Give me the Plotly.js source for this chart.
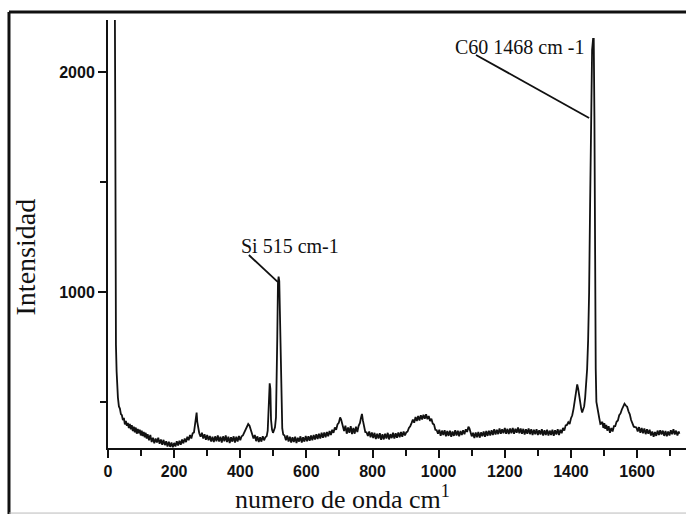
<!DOCTYPE html>
<html><head><meta charset="utf-8">
<script src="https://cdn.plot.ly/plotly-3.0.1.min.js"></script>
<style>html,body{margin:0;padding:0;background:#fff}#c{width:686px;height:517px}</style>
</head><body><div id="c"></div>
<script>
// Raman spectrum: [wavenumber cm-1, intensity]
const spectrumPoints = [
[17,3000],[20,2600],[22,1800],[23,1100],[24,760],[26,640],[28,560],[30,520],[33,480],[36,470],[39,445],[42,440],[45,418],[48,428],[51,398],[54,414],[57,392],[60,405],[63,382],[66,400],[69,376],[72,395],[75,368],[78,388],[81,362],[84,384],[87,356],[90,378],[93,358],[96,374],[99,348],[102,370],[105,345],[108,364],[111,340],[114,360],[117,334],[120,354],[124,326],[128,350],[132,318],[136,338],[140,312],[144,334],[148,316],[152,338],[156,310],[160,330],[164,306],[168,328],[172,304],[176,322],[180,298],[184,320],[188,296],[192,316],[196,294],[200,314],[204,298],[208,322],[212,302],[216,324],[220,306],[224,330],[228,312],[232,334],[236,318],[240,342],[244,326],[248,350],[252,334],[256,358],[260,362],[263,390],[266,425],[268,452],[270,410],[273,378],[276,358],[280,342],[284,360],[288,334],[292,354],[296,328],[300,350],[304,326],[308,346],[312,320],[316,342],[320,318],[324,344],[328,322],[332,348],[336,320],[340,342],[344,316],[348,344],[352,322],[356,348],[360,318],[364,342],[368,314],[372,340],[376,320],[380,344],[384,316],[388,342],[392,320],[396,346],[400,326],[404,344],[408,348],[412,362],[416,372],[420,388],[424,400],[428,392],[432,372],[436,358],[440,334],[444,350],[448,322],[452,344],[456,318],[460,340],[464,320],[468,344],[472,326],[476,340],[480,345],[483,370],[485,460],[487,575],[489,585],[491,560],[493,420],[496,375],[499,360],[502,372],[505,385],[508,430],[510,560],[512,800],[514,1040],[516,1070],[518,1050],[520,900],[522,620],[524,450],[527,380],[530,352],[534,348],[538,326],[542,348],[546,320],[550,342],[554,316],[558,340],[562,318],[566,342],[570,314],[574,338],[578,320],[582,344],[586,316],[590,340],[594,320],[598,346],[602,322],[606,344],[610,324],[614,348],[618,326],[622,350],[626,330],[630,354],[634,332],[638,356],[642,334],[646,360],[650,338],[654,362],[658,340],[662,364],[666,344],[670,368],[674,350],[678,374],[682,360],[686,384],[690,374],[694,398],[698,405],[702,430],[705,420],[708,398],[711,382],[714,368],[718,392],[722,356],[726,384],[730,360],[734,390],[738,354],[742,382],[746,356],[750,388],[754,364],[758,392],[762,405],[765,428],[768,446],[771,415],[774,392],[778,364],[782,362],[786,346],[790,366],[794,340],[798,362],[802,336],[806,360],[810,332],[814,356],[818,334],[822,358],[826,328],[830,354],[834,330],[838,356],[842,334],[846,360],[850,330],[854,354],[858,336],[862,360],[866,334],[870,358],[874,338],[878,362],[882,340],[886,364],[890,342],[894,366],[898,348],[902,362],[906,366],[910,382],[914,390],[918,404],[922,420],[926,406],[930,432],[934,414],[938,436],[942,416],[946,440],[950,420],[954,442],[958,424],[962,444],[966,422],[970,436],[974,414],[978,424],[982,402],[986,398],[990,374],[994,372],[998,356],[1002,374],[1006,346],[1010,370],[1014,350],[1018,372],[1022,344],[1026,368],[1030,346],[1034,370],[1038,342],[1042,366],[1046,346],[1050,372],[1054,348],[1058,370],[1062,344],[1066,368],[1070,350],[1074,372],[1078,354],[1082,376],[1086,364],[1090,388],[1093,380],[1096,360],[1100,344],[1104,360],[1108,336],[1112,362],[1116,340],[1120,364],[1124,338],[1128,362],[1132,344],[1136,366],[1140,342],[1144,368],[1148,346],[1152,370],[1156,348],[1160,372],[1164,350],[1168,376],[1172,352],[1176,374],[1180,354],[1184,380],[1188,356],[1192,376],[1196,358],[1200,382],[1204,356],[1208,378],[1212,354],[1216,380],[1220,358],[1224,382],[1228,356],[1232,378],[1236,360],[1240,384],[1244,358],[1248,380],[1252,356],[1256,378],[1260,352],[1264,376],[1268,356],[1272,380],[1276,354],[1280,376],[1284,350],[1288,374],[1292,354],[1296,376],[1300,350],[1304,372],[1308,352],[1312,376],[1316,348],[1320,372],[1324,350],[1328,374],[1332,348],[1336,370],[1340,350],[1344,374],[1348,346],[1352,372],[1356,352],[1360,376],[1364,350],[1368,374],[1372,358],[1376,382],[1380,370],[1384,394],[1388,396],[1392,408],[1396,400],[1400,425],[1404,440],[1408,470],[1412,520],[1416,560],[1419,580],[1422,560],[1425,520],[1428,490],[1431,470],[1434,452],[1437,462],[1440,480],[1443,520],[1446,580],[1449,650],[1452,780],[1455,1000],[1458,1400],[1461,1800],[1464,2100],[1467,2150],[1469,2150],[1471,1800],[1473,1100],[1475,650],[1477,500],[1480,470],[1483,436],[1486,424],[1489,400],[1492,402],[1495,410],[1498,382],[1501,404],[1504,378],[1507,396],[1510,370],[1514,390],[1518,360],[1522,382],[1526,366],[1530,390],[1534,390],[1538,410],[1542,416],[1546,440],[1550,448],[1554,466],[1558,476],[1562,492],[1566,484],[1570,478],[1574,458],[1578,444],[1582,418],[1586,404],[1590,388],[1594,386],[1598,384],[1602,366],[1606,386],[1610,360],[1614,382],[1618,358],[1622,380],[1626,354],[1630,376],[1634,356],[1638,374],[1642,348],[1646,366],[1650,342],[1654,364],[1658,346],[1662,370],[1666,350],[1670,372],[1674,352],[1678,370],[1682,346],[1686,368],[1690,344],[1694,366],[1698,348],[1702,372],[1706,354],[1710,376],[1714,352],[1718,370],[1722,348],[1726,366],[1728,356]
];
const waveNumber = spectrumPoints.map(p => p[0]);
const intensity = spectrumPoints.map(p => p[1]);

const peakLabels = ["Si 515 cm-1", "C60 1468 cm -1"];
const xTickVals = [0,200,400,600,800,1000,1200,1400,1600];
const xTickText = ["0","200","400","600","800","1000","1200","1400","1600"];
const yTickVals = [1000,2000];
const yTickText = ["1000","2000"];
const xTitle = "numero de onda cm<sup>1</sup>";
const yTitle = "Intensidad";

const serif = "Liberation Serif, Times New Roman, serif";
const sans = "Liberation Sans, Arial, sans-serif";

const trace = {x: waveNumber, y: intensity, type: "scatter", mode: "lines",
  line: {color: "#111", width: 1.8}, hoverinfo: "skip"};

const layout = {
  width: 686, height: 517,
  margin: {l: 108, r: 0, t: 20, b: 69, pad: 0},
  paper_bgcolor: "#fff", plot_bgcolor: "#fff",
  showlegend: false,
  xaxis: {range: [0, 1748], showgrid: false, zeroline: false,
    showline: true, linecolor: "#111", linewidth: 2,
    ticks: "outside", ticklen: 8, tickwidth: 2, tickcolor: "#111",
    tickmode: "array", tickvals: xTickVals, ticktext: xTickText,
    tickfont: {family: sans, size: 16, color: "#111", weight: "bold"},
    minor: {dtick: 100, tick0: 0, ticks: "outside", ticklen: 6, tickwidth: 2, tickcolor: "#111", showgrid: false}},
  yaxis: {range: [291, 2236], showgrid: false, zeroline: false,
    showline: true, linecolor: "#111", linewidth: 2,
    ticks: "outside", ticklen: 8, tickwidth: 2, tickcolor: "#111",
    tickmode: "array", tickvals: yTickVals, ticktext: yTickText,
    tickfont: {family: sans, size: 16, color: "#111", weight: "bold"},
    minor: {dtick: 500, tick0: 0, ticks: "outside", ticklen: 6, tickwidth: 2, tickcolor: "#111", showgrid: false}},
  annotations: [
    {text: peakLabels[0], x: 550, y: 1209, xref: "x", yref: "y", showarrow: false,
      xanchor: "center", yanchor: "middle", font: {family: serif, size: 20, color: "#111"}},
    {text: peakLabels[1], x: 1243, y: 2114, xref: "x", yref: "y", showarrow: false,
      xanchor: "center", yanchor: "middle", font: {family: serif, size: 20, color: "#111"}},
    {text: xTitle, x: 0.405, y: -0.1145, xref: "paper", yref: "paper", showarrow: false,
      xanchor: "center", yanchor: "middle", font: {family: serif, size: 26, color: "#111"}},
    {text: yTitle, x: -0.143, y: 0.446, xref: "paper", yref: "paper", showarrow: false, textangle: -90,
      xanchor: "center", yanchor: "middle", font: {family: serif, size: 28, color: "#111"}}
  ],
  shapes: [
    {type: "line", xref: "x", yref: "y", x0: 426, y0: 1168, x1: 514, y1: 1045, line: {color: "#111", width: 1.8}},
    {type: "line", xref: "x", yref: "y", x0: 1113, y0: 2077, x1: 1455, y1: 1791, line: {color: "#111", width: 1.8}},
    {type: "line", xref: "paper", yref: "paper", x0: -0.1713, y0: 1.0187, x1: 1.05, y1: 1.0187, line: {color: "#111", width: 3}},
    {type: "line", xref: "paper", yref: "paper", x0: -0.1713, y0: 1.0187, x1: -0.1713, y1: -0.154, line: {color: "#111", width: 3}},
    {type: "line", xref: "paper", yref: "paper", x0: -0.1713, y0: -0.152, x1: 1.05, y1: -0.152, line: {color: "#bbb", width: 1}}
  ]
};
Plotly.newPlot("c", [trace], layout, {staticPlot: true, displayModeBar: false});
</script></body></html>
